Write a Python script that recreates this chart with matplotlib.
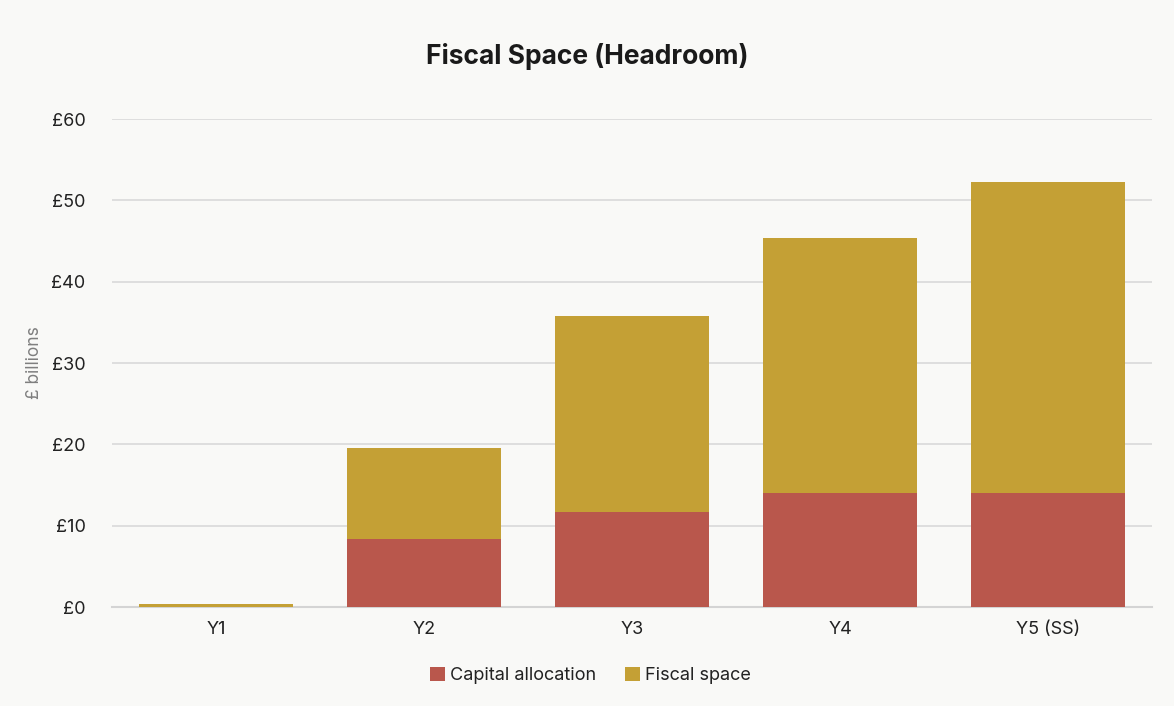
import matplotlib
matplotlib.use("Agg")
import matplotlib.pyplot as plt
import numpy as np

categories = ["Y1", "Y2", "Y3", "Y4", "Y5 (SS)"]
capital_allocation = [0.0, 8.4, 11.7, 14.0, 14.0]
fiscal_space = [0.4, 11.1, 24.1, 31.4, 38.3]
yticks = [0, 10, 20, 30, 40, 50, 60]
ytick_labels = ["£0", "£10", "£20", "£30", "£40", "£50", "£60"]

plt.rcParams['font.family'] = ['Inter', 'DejaVu Sans']
bg = "#f9f9f7"
c_cap = "#b9574c"
c_fis = "#c4a035"

fig = plt.figure(figsize=(11.74, 7.06), dpi=100, facecolor=bg)
ax = fig.add_axes([0.0954, 0.1402, 0.8859, 0.6912], facecolor=bg)

x = np.arange(len(categories))
ax.bar(x, capital_allocation, width=0.74, color=c_cap, label="Capital allocation", zorder=5)
ax.bar(x, fiscal_space, width=0.74, bottom=capital_allocation, color=c_fis, label="Fiscal space", zorder=5)

ax.set_xlim(-0.5, len(categories) - 0.5)
ax.set_ylim(0, 60)
ax.set_yticks(yticks)
ax.set_yticklabels(ytick_labels, fontsize=13, color="#222222")
ax.set_xticks(x)
ax.set_xticklabels(categories, fontsize=13, color="#222222")
ax.tick_params(axis='both', length=0, pad=10)
ax.tick_params(axis='y', pad=19)
ax.yaxis.grid(True, color="#d9d9d9", linewidth=1.2, zorder=0)
for s in ["top", "right", "left"]:
    ax.spines[s].set_visible(False)
ax.spines["bottom"].set_color("#d4d4d4")
ax.spines["bottom"].set_linewidth(1.5)
ax.spines["bottom"].set_zorder(2)

ax.set_ylabel("£ billions", fontsize=12.5, color="#7f7f7f")
ax.yaxis.set_label_coords(-0.066, 0.5)

fig.text(0.5, 0.92, "Fiscal Space (Headroom)", ha="center", va="center",
         fontsize=19, fontweight="bold", color="#1a1a1a")

leg = fig.legend(loc="center", bbox_to_anchor=(0.503, 0.043), ncol=2, frameon=False,
                 fontsize=13, handlelength=0.8, handleheight=0.8, handletextpad=0.3,
                 columnspacing=1.6)
for t in leg.get_texts():
    t.set_color("#222222")

fig.savefig("out.png", dpi=100, facecolor=bg)
